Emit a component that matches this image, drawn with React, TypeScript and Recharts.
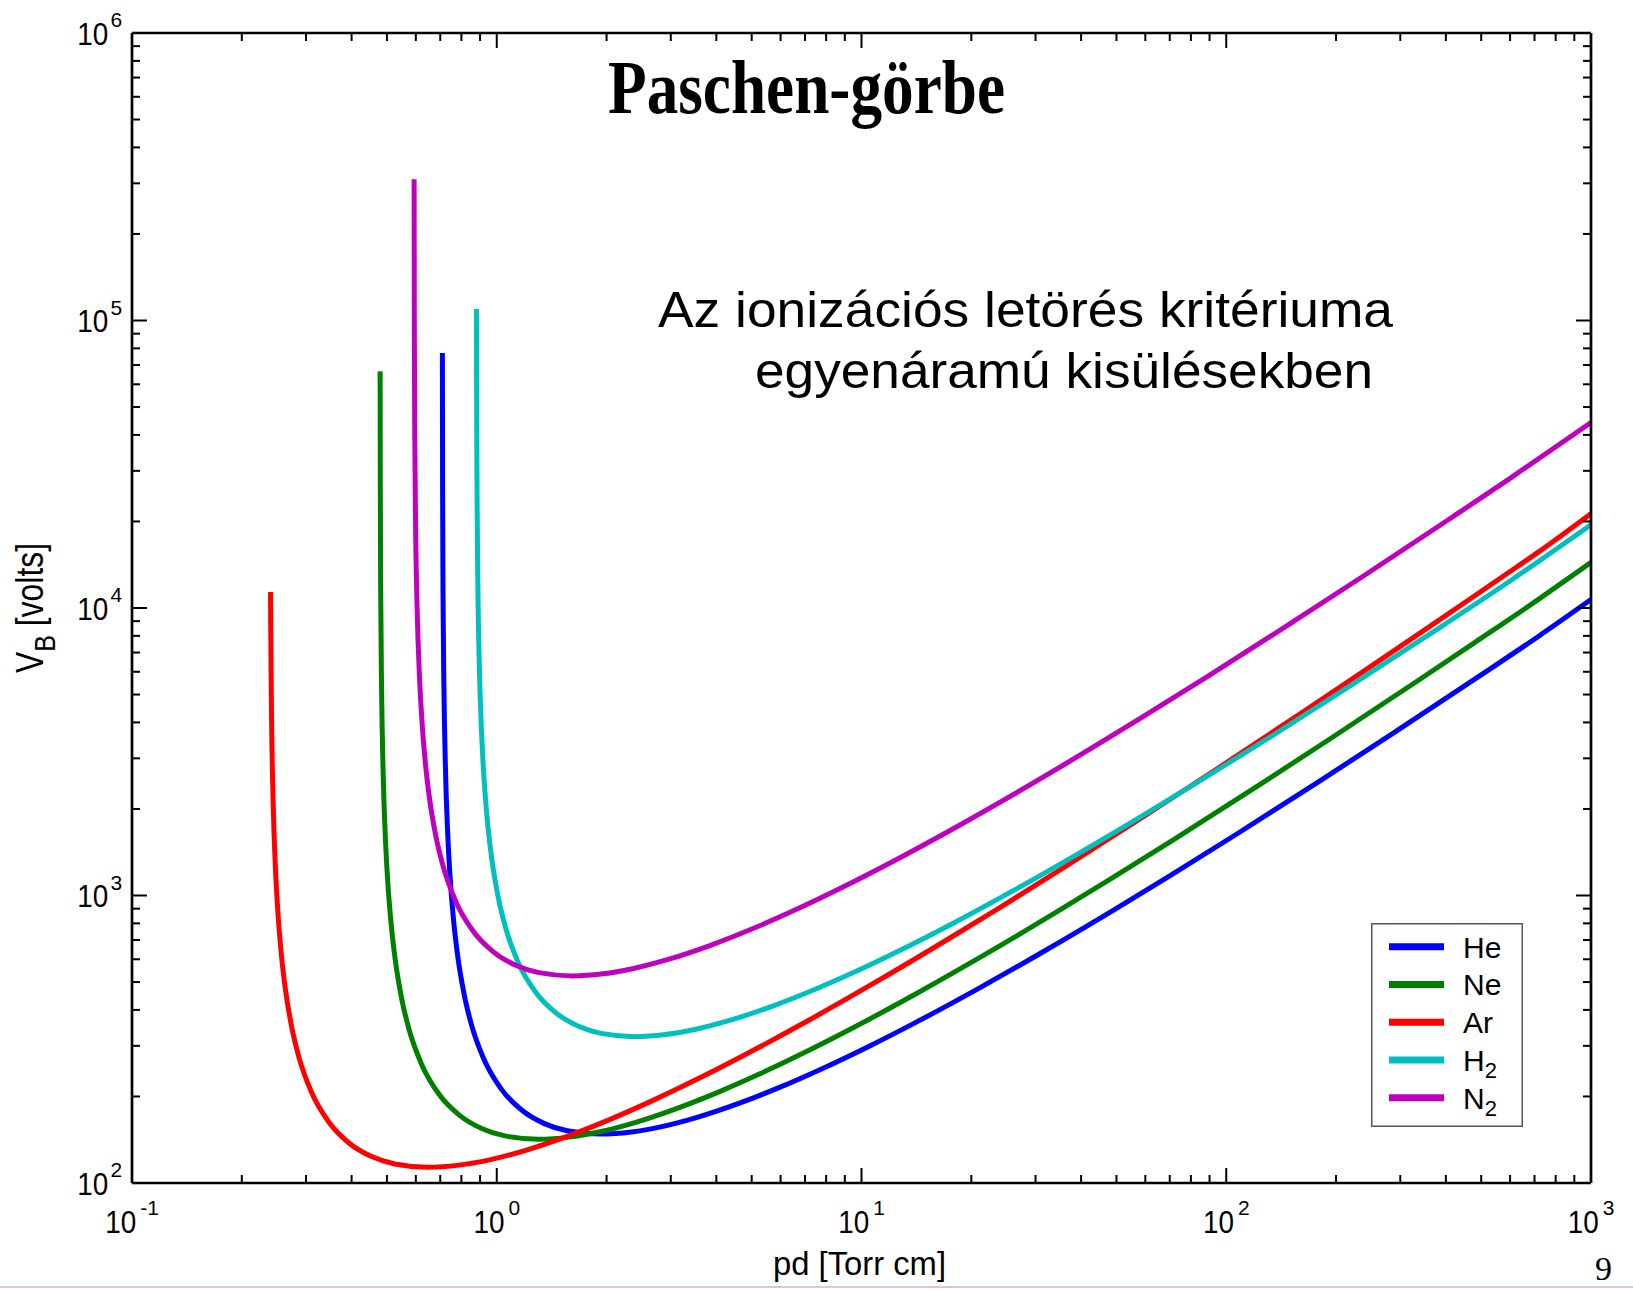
import React from 'react';
import { LineChart, Line, XAxis, YAxis, Legend } from 'recharts';

// ---------- series ----------
const seriesNames = ['He', 'Ne', 'Ar', 'H2', 'N2'];
const seriesColors = ['#0000ff', '#008000', '#ff0000', '#00bfbf', '#bf00bf'];

// pd [Torr cm] and V_B [volts]
const hePd = [0.7095, 0.7104, 0.7125, 0.7161, 0.7232, 0.7338, 0.7445, 0.7622, 0.7799, 0.8154, 0.8508, 0.9217, 1.028, 1.170, 1.347, 1.560, 1.927, 2.340, 2.836, 3.545, 4.609, 6.027, 7.799, 10.635, 14.18, 21.27, 31.91, 49.63, 70.9, 106.35, 177.25, 283.6, 496.3, 709, 1000];
const heV = [77150, 27307, 10972, 5527, 2805, 1638, 1172, 809, 628.4, 448.0, 358.4, 269.8, 212.5, 179.4, 161.2, 151.9, 148.0, 150.5, 157.1, 169.2, 189.1, 216.3, 249.8, 301.6, 363.5, 480.2, 643.7, 897.1, 1182, 1630, 2465, 3635, 5818, 7883, 10700];

const nePd = [0.47888, 0.47946, 0.48089, 0.48329, 0.48807, 0.49525, 0.50243, 0.51439, 0.52635, 0.55028, 0.5742, 0.62205, 0.69383, 0.78953, 0.90915, 1.0527, 1.3006, 1.5791, 1.914, 2.3925, 3.1103, 4.0673, 5.2635, 7.1775, 9.57, 14.355, 21.533, 33.495, 47.85, 71.775, 119.63, 191.4, 334.95, 478.5, 717.75, 1000];
const neV = [66530, 26203, 10528, 5303, 2691, 1572, 1124, 776.4, 603.0, 429.9, 343.9, 258.9, 203.9, 172.2, 154.7, 145.8, 142.0, 144.4, 150.7, 162.3, 181.5, 207.5, 239.7, 289.4, 348.8, 460.8, 617.6, 860.9, 1134.6, 1564, 2366, 3488, 5583, 7564, 10717, 14400];

const arPd = [0.23978, 0.2401, 0.24129, 0.24368, 0.24726, 0.25085, 0.25682, 0.26279, 0.27474, 0.28668, 0.31057, 0.34641, 0.39419, 0.45391, 0.52558, 0.64933, 0.78837, 0.9556, 1.1945, 1.5529, 2.0307, 2.6279, 3.5835, 4.778, 7.167, 10.751, 16.723, 23.89, 35.835, 59.725, 95.56, 167.23, 238.9, 358.35, 477.8, 597.25, 716.7, 1000];
const arV = [11370, 8411, 4237, 2150, 1256, 898.2, 620.3, 481.7, 343.4, 274.7, 206.8, 162.9, 137.5, 123.6, 116.5, 113.4, 115.4, 120.4, 129.7, 145.0, 165.8, 191.5, 231.2, 278.7, 368.1, 493.4, 687.7, 906.4, 1249.5, 1890, 2787, 4460, 6043, 8561, 10983, 13337, 15640, 21300];

const h2Pd = [0.87975, 0.88056, 0.88319, 0.88759, 0.89638, 0.90956, 0.92274, 0.94471, 0.96668, 1.0106, 1.0546, 1.1424, 1.2743, 1.45, 1.6697, 1.9334, 2.3886, 2.9, 3.5152, 4.394, 5.7122, 7.4698, 9.6668, 13.182, 17.576, 26.364, 39.546, 61.516, 87.88, 131.82, 219.7, 351.52, 615.16, 1000];
const h2V = [109700, 59578, 23938, 12058, 6119, 3575, 2557, 1765, 1371, 977.5, 781.9, 588.7, 463.6, 391.4, 351.6, 331.5, 322.9, 328.4, 342.7, 369.1, 412.6, 471.9, 544.9, 658, 793.1, 1047.8, 1404.3, 1957.4, 2579.7, 3556.4, 5379, 7931, 12694, 19500];

const n2Pd = [0.59347, 0.59429, 0.59607, 0.59903, 0.60496, 0.61386, 0.62276, 0.63758, 0.65241, 0.68207, 0.71172, 0.77103, 0.86, 0.97862, 1.1269, 1.3048, 1.612, 1.9572, 2.3724, 2.9655, 3.8552, 5.0414, 6.5241, 8.8965, 11.862, 17.793, 26.69, 41.517, 59.31, 88.965, 148.28, 237.24, 415.17, 593.1, 1000];
const n2V = [309800, 96890, 38930, 19610, 9952, 5813, 4158, 2871, 2230, 1590, 1272, 957.3, 753.9, 636.6, 571.9, 539.0, 525.1, 534, 557.4, 600.3, 671, 767.4, 886.2, 1070, 1289.8, 1704, 2283.8, 3183, 4195, 5784, 8748, 12898, 20643, 27969, 44200];

// ---------- axes ----------
const xDomain = [0.1, 1000];
const yDomain = [100, 1000000];
const xMajorTicks = [0.1, 1, 10, 100, 1000];
const yMajorTicks = [100, 1000, 10000, 100000, 1000000];
const minorMultipliers = [2, 3, 4, 5, 6, 7, 8, 9];

const titleText = 'Paschen-görbe';
const noteLine1 = 'Az ionizációs letörés kritériuma';
const noteLine2 = 'egyenáramú kisülésekben';
const xLabel = 'pd [Torr cm]';
const pageNumber = '9';

const build = (pd: number[], v: number[]) => pd.map((p, i) => ({ pd: p, v: v[i] }));
const seriesData = [build(hePd, heV), build(nePd, neV), build(arPd, arV), build(h2Pd, h2V), build(n2Pd, n2V)];

const withMinors = (majors: number[]) => {
  const out: number[] = [...majors];
  majors.slice(0, -1).forEach((m) => minorMultipliers.forEach((k) => out.push(m * k)));
  return out.sort((a, b) => a - b);
};
const xTicks = withMinors(xMajorTicks);
const yTicks = withMinors(yMajorTicks);

const TICK_FONT = '"Liberation Sans", Arial, sans-serif';
const MAJOR_LEN = 15;
const MINOR_LEN = 8;
const TICK_W = 2;

const isMajor = (v: number) => Math.abs(Math.log10(v) - Math.round(Math.log10(v))) < 1e-6;
const expOf = (v: number) => String(Math.round(Math.log10(v)));
const supWidth = (e: string) => e.split('').reduce((s, c) => s + (c === '-' ? 7 : 11.7), 0);

function BottomTick(props: any) {
  const { x, y, payload } = props;
  const v = payload.value as number;
  const major = isMajor(v);
  const len = major ? MAJOR_LEN : MINOR_LEN;
  let label = null;
  if (major) {
    const e = expOf(v);
    const total = 31 + 4 + supWidth(e);
    const start = x - total / 2;
    label = (
      <g fill="#000">
        <text x={start} y={y + 50} fontSize={32} fontFamily={TICK_FONT} textLength={31} lengthAdjust="spacingAndGlyphs">10</text>
        <text x={start + 35} y={y + 32} fontSize={21} fontFamily={TICK_FONT}>{e}</text>
      </g>
    );
  }
  return (
    <g>
      <line x1={x} y1={y} x2={x} y2={y - len} stroke="#000" strokeWidth={TICK_W} />
      {label}
    </g>
  );
}

function TopTick(props: any) {
  const { x, y, payload } = props;
  const len = isMajor(payload.value) ? MAJOR_LEN : MINOR_LEN;
  return <line x1={x} y1={y} x2={x} y2={y + len} stroke="#000" strokeWidth={TICK_W} />;
}

function LeftTick(props: any) {
  const { x, y, payload } = props;
  const v = payload.value as number;
  const major = isMajor(v);
  const len = major ? MAJOR_LEN : MINOR_LEN;
  let label = null;
  if (major) {
    const e = expOf(v);
    label = (
      <g fill="#000">
        <text x={x - 23.7} y={y + 11.5} textAnchor="end" fontSize={32} fontFamily={TICK_FONT} textLength={31} lengthAdjust="spacingAndGlyphs">10</text>
        <text x={x - 21.5} y={y - 6} fontSize={21} fontFamily={TICK_FONT}>{e}</text>
      </g>
    );
  }
  return (
    <g>
      <line x1={x} y1={y} x2={x + len} y2={y} stroke="#000" strokeWidth={TICK_W} />
      {label}
    </g>
  );
}

function RightTick(props: any) {
  const { x, y, payload } = props;
  const len = isMajor(payload.value) ? MAJOR_LEN : MINOR_LEN;
  return <line x1={x} y1={y} x2={x - len} y2={y} stroke="#000" strokeWidth={TICK_W} />;
}

const renderName = (name: string, subSize: number, dy: number) => {
  const m = name.match(/^([A-Za-z]+)(\d*)$/);
  if (!m || !m[2]) return name;
  return (
    <>
      {m[1]}
      <tspan fontSize={subSize} dy={dy}>{m[2]}</tspan>
    </>
  );
};

function LegendBox(props: any) {
  const payload = (props.payload || []) as any[];
  const ordered = seriesNames.map((n, i) => {
    const p = payload.find((q) => String(q.value) === n);
    return { value: n, color: p ? p.color : seriesColors[i] };
  });
  const rowY = (i: number) => 23.7 + i * 37.75;
  return (
    <svg width={152} height={204} style={{ display: 'block' }}>
      <rect x={0.75} y={0.75} width={150.5} height={202.5} fill="#fff" stroke="#555" strokeWidth={1.5} />
      {ordered.map((p, i) => (
        <g key={p.value}>
          <line x1={18} x2={73} y1={rowY(i)} y2={rowY(i)} stroke={p.color} strokeWidth={7} />
          <text x={92} y={rowY(i) + 11} fontSize={30} fontFamily={TICK_FONT} fill="#000">
            {renderName(p.value, 22, 7)}
          </text>
        </g>
      ))}
    </svg>
  );
}

const axisLine = { stroke: '#000', strokeWidth: 2.7 };

export default function App() {
  return (
    <div style={{ position: 'absolute', left: 0, top: 0, width: 1633, height: 1290, background: '#fff' }}>
      <LineChart width={1633} height={1290} margin={{ top: 23, right: 32, bottom: 47, left: 32 }}>
        <XAxis xAxisId="bottom" orientation="bottom" dataKey="pd" type="number" scale="log" domain={xDomain} allowDataOverflow
          ticks={xTicks} interval={0} tickSize={0} tickMargin={0} tickLine={false} axisLine={axisLine} tick={BottomTick} height={60} />
        <XAxis xAxisId="top" orientation="top" dataKey="pd" type="number" scale="log" domain={xDomain} allowDataOverflow
          ticks={xTicks} interval={0} tickSize={0} tickMargin={0} tickLine={false} axisLine={axisLine} tick={TopTick} height={10} />
        <YAxis yAxisId="left" orientation="left" type="number" scale="log" domain={yDomain} allowDataOverflow
          ticks={yTicks} interval={0} tickSize={0} tickMargin={0} tickLine={false} axisLine={axisLine} tick={LeftTick} width={100} />
        <YAxis yAxisId="right" orientation="right" type="number" scale="log" domain={yDomain} allowDataOverflow
          ticks={yTicks} interval={0} tickSize={0} tickMargin={0} tickLine={false} axisLine={axisLine} tick={RightTick} width={10} />
        {seriesNames.map((name, i) => (
          <Line key={name} name={name} data={seriesData[i]} dataKey="v" xAxisId="bottom" yAxisId="left"
            type="monotone" stroke={seriesColors[i]} strokeWidth={5} dot={false} activeDot={false}
            isAnimationActive={false} legendType="line" />
        ))}
        <Legend layout="vertical" align="center" verticalAlign="middle" content={LegendBox}
          wrapperStyle={{ left: 1371, top: 923, width: 152, height: 204 }} />
      </LineChart>
      <svg width={1633} height={1290} style={{ position: 'absolute', left: 0, top: 0, pointerEvents: 'none' }}>
        <text x={806.5} y={113} textAnchor="middle" fontFamily='"Liberation Serif", "Times New Roman", serif' fontWeight="bold"
          fontSize={76} textLength={397} lengthAdjust="spacingAndGlyphs" fill="#000">{titleText}</text>
        <text x={658} y={327} fontFamily={TICK_FONT} fontSize={50} textLength={735} lengthAdjust="spacingAndGlyphs" fill="#000">{noteLine1}</text>
        <text x={755} y={388} fontFamily={TICK_FONT} fontSize={50} textLength={618} lengthAdjust="spacingAndGlyphs" fill="#000">{noteLine2}</text>
        <text x={773} y={1275} fontFamily={TICK_FONT} fontSize={34} textLength={173} lengthAdjust="spacingAndGlyphs" fill="#000">{xLabel}</text>
        <text transform="translate(42.7,673) rotate(-90)" fontFamily={TICK_FONT} fontSize={38} textLength={130} lengthAdjust="spacingAndGlyphs" fill="#000">
          V<tspan fontSize={30} dy={12}>B</tspan><tspan dy={-12}> [volts]</tspan>
        </text>
        <text x={1595} y={1280} fontFamily='"Liberation Serif", "Times New Roman", serif' fontSize={34} fill="#000">{pageNumber}</text>
        <line x1={0} x2={1633} y1={1287} y2={1287} stroke="#e2c4d6" strokeWidth={2} />
      </svg>
    </div>
  );
}
